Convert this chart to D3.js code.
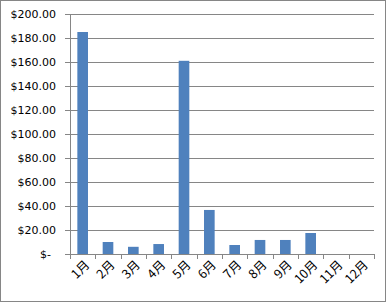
<!DOCTYPE html>
<html>
<head>
<meta charset="utf-8">
<script src="https://cdn.jsdelivr.net/npm/d3@7"></script>
<style>
  body { margin: 0; background: #fff; }
  svg { display: block; }
</style>
</head>
<body>
<svg id="chart"></svg>
<script>
//Chart data
const months = ['1月','2月','3月','4月','5月','6月','7月','8月','9月','10月','11月','12月'];
const amounts = [185, 10, 6, 8.3, 161, 36.7, 7.5, 11.7, 11.7, 17.5, 0, 0];
const yTicks = [0, 20, 40, 60, 80, 100, 120, 140, 160, 180, 200];

//Size of the svg
const width = 389;
const height = 304;
const margin = {top: 14, right: 15, bottom: 50, left: 70};

const svg = d3.select('#chart')
    .attr('width', width)
    .attr('height', height);

//Outer border of the chart
svg.append('rect')
    .attr('x', 0.5)
    .attr('y', 0.5)
    .attr('width', 385)
    .attr('height', 301)
    .attr('fill', '#fff')
    .attr('stroke', '#868686');

const x = d3.scaleBand()
    .domain(months)
    .range([margin.left, width - margin.right])
    .paddingInner(0.58)
    .paddingOuter(0.29);

const y = d3.scaleLinear()
    .domain([0, 200])
    .range([height - margin.bottom, margin.top]);

const fmt = (d) => d === 0 ? '$-' : '$' + d3.format('.2f')(d);

//Gridlines
svg.append('g')
    .selectAll('line')
    .data(yTicks)
    .enter()
    .append('line')
    .attr('x1', margin.left - 5)
    .attr('x2', width - margin.right)
    .attr('y1', (d) => Math.round(y(d)) + 0.5)
    .attr('y2', (d) => Math.round(y(d)) + 0.5)
    .attr('stroke', '#868686')
    .attr('stroke-width', 1);

//Y labels
svg.append('g')
    .selectAll('text')
    .data(yTicks)
    .enter()
    .append('text')
    .attr('x', (d) => d === 0 ? 51 : 56)
    .attr('y', (d) => y(d))
    .attr('dy', '0.35em')
    .attr('text-anchor', 'end')
    .attr('font-family', 'DejaVu Sans, sans-serif')
    .attr('font-size', '11px')
    .attr('fill', '#000')
    .text(fmt);

//Bars
svg.append('g')
    .selectAll('rect')
    .data(amounts)
    .enter()
    .append('rect')
    .attr('x', (d, i) => x(months[i]))
    .attr('y', (d) => y(d))
    .attr('width', x.bandwidth())
    .attr('height', (d) => y(0) - y(d))
    .attr('fill', '#4F81BD');

//Y axis line
svg.append('line')
    .attr('x1', margin.left + 0.5)
    .attr('x2', margin.left + 0.5)
    .attr('y1', y(200))
    .attr('y2', y(0))
    .attr('stroke', '#868686');

//X axis ticks at band edges
const edges = d3.range(months.length + 1).map((i) => margin.left + i * (width - margin.left - margin.right) / months.length);
svg.append('g')
    .selectAll('line')
    .data(edges)
    .enter()
    .append('line')
    .attr('x1', (d) => Math.round(d) + 0.5)
    .attr('x2', (d) => Math.round(d) + 0.5)
    .attr('y1', y(0))
    .attr('y2', y(0) + 5)
    .attr('stroke', '#868686');

//X labels
svg.append('g')
    .selectAll('text')
    .data(months)
    .enter()
    .append('text')
    .attr('transform', (d) => `translate(${x(d) + x.bandwidth() / 2 + 1},${y(0) + 5}) rotate(-45)`)
    .attr('text-anchor', 'end')
    .attr('dy', '0.75em')
    .attr('font-family', 'Noto Sans CJK SC, sans-serif')
    .attr('font-size', '12.5px')
    .attr('fill', '#000')
    .text((d) => d);
</script>
</body>
</html>
